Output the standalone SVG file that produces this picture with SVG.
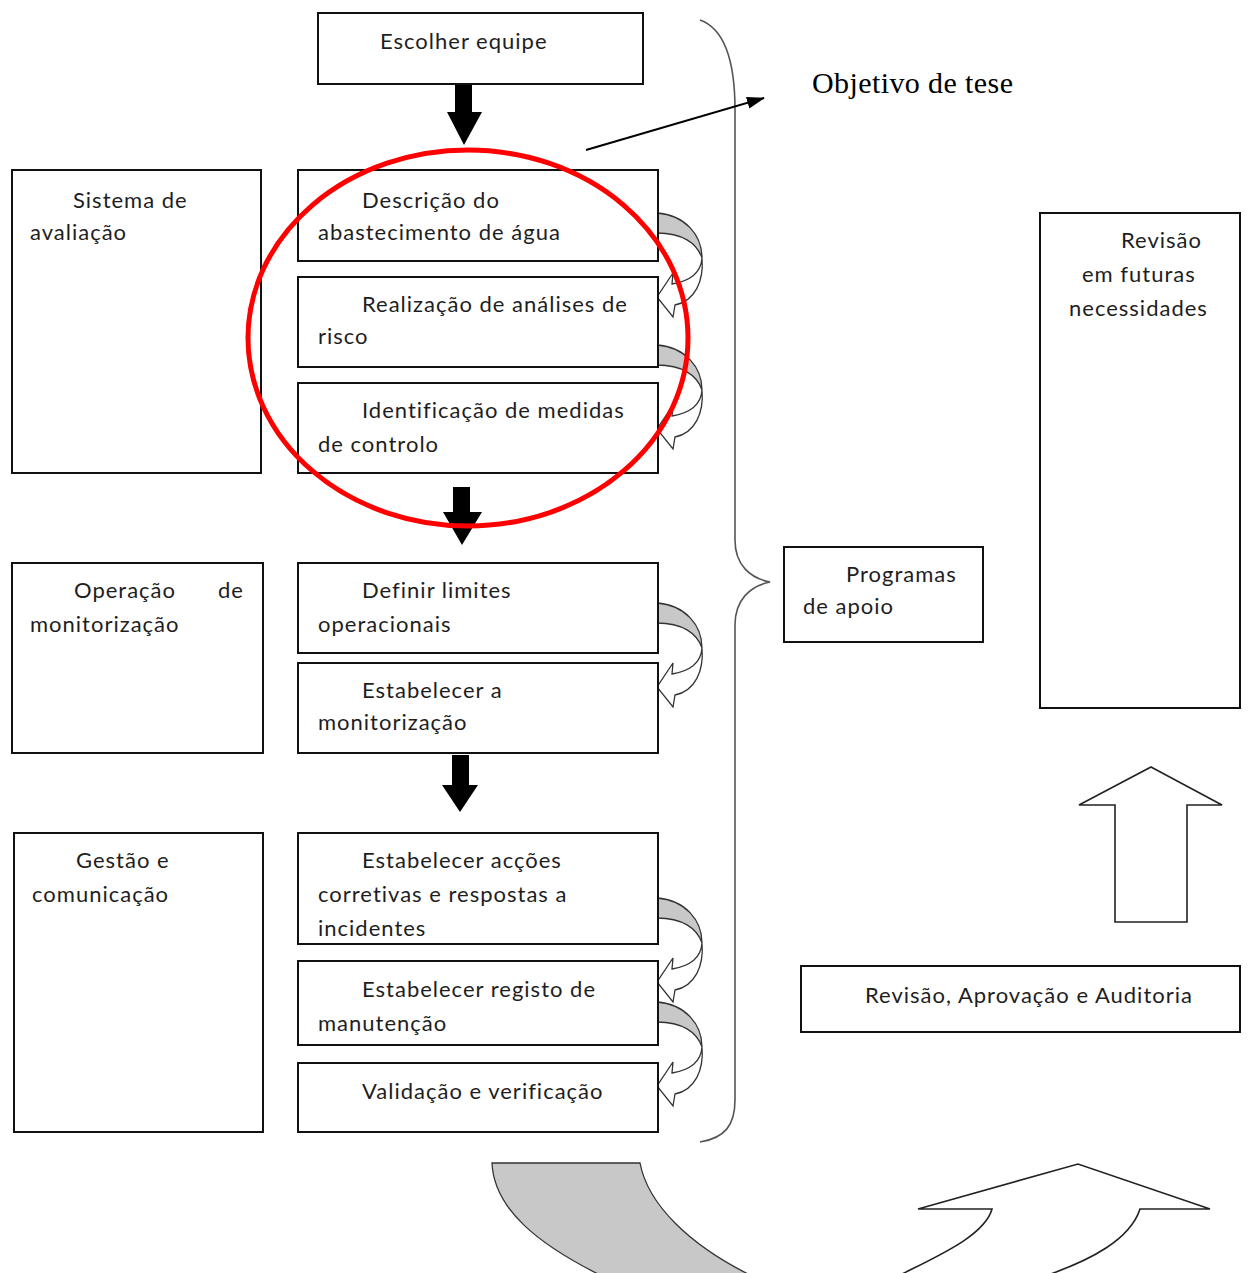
<svg xmlns="http://www.w3.org/2000/svg" width="1248" height="1273" viewBox="0 0 1248 1273">
<defs>
<style>
.box{fill:#fff;stroke:#111;stroke-width:2}
.t{font-family:Lato,"Open Sans","Liberation Sans",sans-serif;font-size:22px;letter-spacing:1px;fill:#1e1e1e}
.tm{font-family:"Liberation Serif","Times New Roman",serif;font-size:30px;letter-spacing:0.4px;fill:#000}
.blk{fill:#000}
.gray{fill:#c8c8c8;stroke:#333;stroke-width:1.3}
.wht{fill:#fff;stroke:#333;stroke-width:1.3}
.brace{fill:none;stroke:#555;stroke-width:1.6}
</style>
<marker id="ah" markerWidth="18" markerHeight="14" refX="17" refY="7" orient="auto" markerUnits="userSpaceOnUse" viewBox="0 0 18 14">
<path d="M0,1 L18,7 L0,13 Z" fill="#000"/>
</marker>
<g id="curl">
<path class="gray" d="M0,0 C28,2 45,22 45,45 C40,30 25,20 0,20 Z"/>
<path class="wht" d="M45,45 C44,60 33,68 15,71 L16,60 L0,84 L16,104 L18,92 C38,88 47,68 45,45 Z"/>
</g>
</defs>
<rect width="1248" height="1273" fill="#fff"/>

<g id="connectors">
<polygon class="blk" points="455,85 472,85 472,112 482,112 464,145 447,112 455,112"/>
<polygon class="blk" points="453,487 470,487 470,512 482,512 462,545 443,512 453,512"/>
<polygon class="blk" points="452,755 469,755 469,785 478,785 460,812 442,785 452,785"/>
<use href="#curl" x="657" y="213"/>
<use href="#curl" x="657" y="345"/>
<use href="#curl" x="657" y="603"/>
<use href="#curl" x="657" y="898"/>
<use href="#curl" x="657" y="1002"/>
<path class="brace" d="M700,20 C728,30 735,70 735,110 L735,540 C735,565 750,578 770,582 C750,586 735,600 735,625 L735,1100 C735,1125 725,1138 700,1142"/>
<line x1="586" y1="150" x2="764" y2="98" stroke="#000" stroke-width="2" marker-end="url(#ah)"/>
<polygon fill="#fff" stroke="#222" stroke-width="1.6" points="1151,767 1222,805 1187,805 1187,922 1115,922 1115,805 1079,805"/>
<path class="gray" d="M492,1163 L640,1163 C648,1205 690,1245 750,1275 L600,1275 C540,1245 494,1210 492,1163 Z"/>
<path fill="#fff" stroke="#222" stroke-width="1.6" d="M900,1275 C940,1255 985,1235 992,1209 L918,1209 L1078,1164 L1210,1209 L1140,1209 C1130,1240 1090,1260 1048,1275"/>
</g>

<g id="n-escolher"><rect class="box" x="318" y="13" width="325" height="71"/><text class="t" x="380" y="49">Escolher equipe</text></g>

<g id="n-sistema"><rect class="box" x="12" y="170" width="249" height="303"/><text class="t" x="73" y="208">Sistema de</text><text class="t" x="30" y="240">avaliação</text></g>
<g id="n-descricao"><rect class="box" x="298" y="170" width="360" height="91"/><text class="t" x="362" y="208">Descrição do</text><text class="t" x="318" y="240">abastecimento de água</text></g>
<g id="n-realizacao"><rect class="box" x="298" y="277" width="360" height="90"/><text class="t" x="362" y="312">Realização de análises de</text><text class="t" x="318" y="344">risco</text></g>
<g id="n-identificacao"><rect class="box" x="298" y="383" width="360" height="90"/><text class="t" x="362" y="418">Identificação de medidas</text><text class="t" x="318" y="452">de controlo</text></g>

<g id="n-operacao"><rect class="box" x="12" y="563" width="251" height="190"/><text class="t" x="74" y="598">Operação</text><text class="t" x="218" y="598">de</text><text class="t" x="30" y="632">monitorização</text></g>
<g id="n-definir"><rect class="box" x="298" y="563" width="360" height="90"/><text class="t" x="362" y="598">Definir limites</text><text class="t" x="318" y="632">operacionais</text></g>
<g id="n-estabelecer-mon"><rect class="box" x="298" y="663" width="360" height="90"/><text class="t" x="362" y="698">Estabelecer a</text><text class="t" x="318" y="730">monitorização</text></g>

<g id="n-gestao"><rect class="box" x="14" y="833" width="249" height="299"/><text class="t" x="76" y="868">Gestão e</text><text class="t" x="32" y="902">comunicação</text></g>
<g id="n-accoes"><rect class="box" x="298" y="833" width="360" height="111"/><text class="t" x="362" y="868">Estabelecer acções</text><text class="t" x="318" y="902">corretivas e respostas a</text><text class="t" x="318" y="936">incidentes</text></g>
<g id="n-registo"><rect class="box" x="298" y="961" width="360" height="84"/><text class="t" x="362" y="997">Estabelecer registo de</text><text class="t" x="318" y="1031">manutenção</text></g>
<g id="n-validacao"><rect class="box" x="298" y="1063" width="360" height="69"/><text class="t" x="362" y="1099">Validação e verificação</text></g>

<g id="n-programas"><rect class="box" x="784" y="547" width="199" height="95"/><text class="t" x="846" y="582">Programas</text><text class="t" x="803" y="614">de apoio</text></g>
<g id="n-revisao-futuras"><rect class="box" x="1040" y="213" width="200" height="495"/><text class="t" x="1121" y="248">Revisão</text><text class="t" x="1082" y="282">em futuras</text><text class="t" x="1069" y="316">necessidades</text></g>
<g id="n-revisao-aprov"><rect class="box" x="801" y="966" width="439" height="66"/><text class="t" x="865" y="1003">Revisão, Aprovação e Auditoria</text></g>

<g id="n-objetivo"><text class="tm" x="812" y="93">Objetivo de tese</text></g>

<ellipse cx="468" cy="338" rx="220" ry="188" fill="none" stroke="#ff0000" stroke-width="5"/>
</svg>
